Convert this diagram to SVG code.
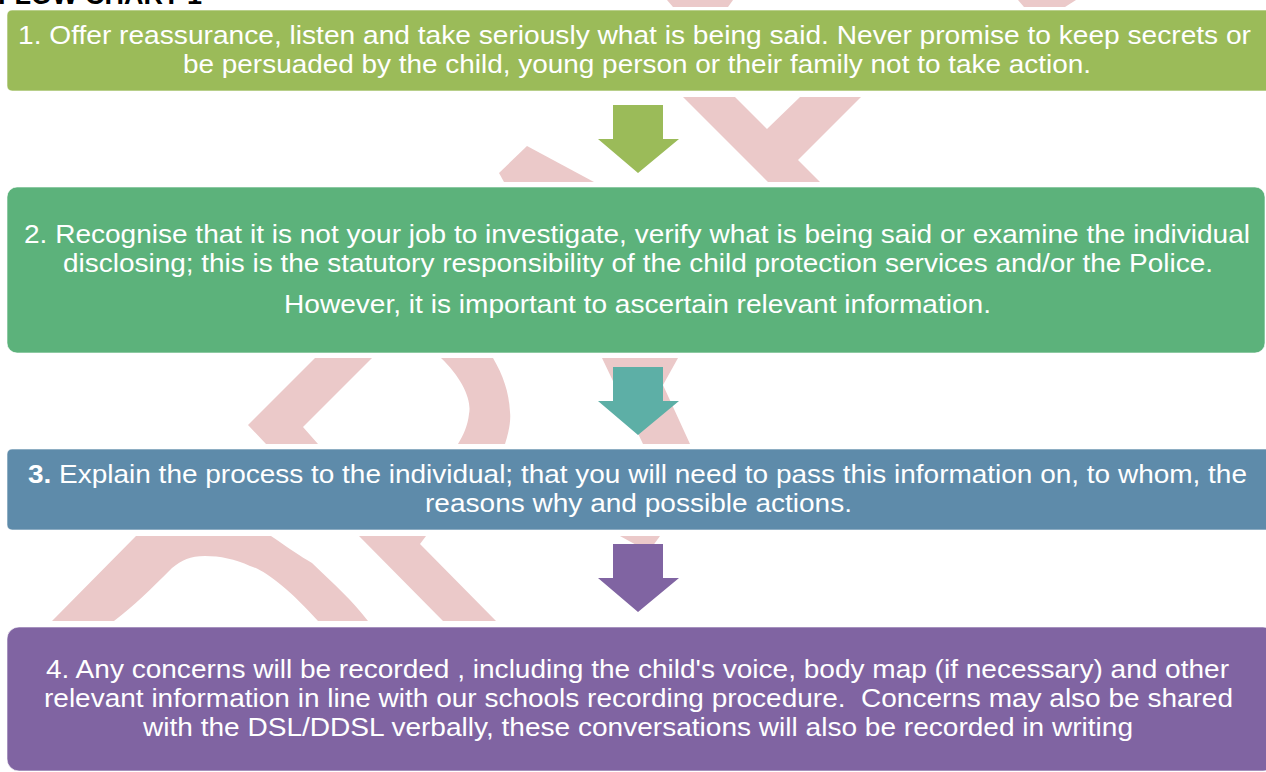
<svg xmlns="http://www.w3.org/2000/svg" width="1266" height="772" viewBox="0 0 1266 772">
<style>
.box{stroke:#ffffff;stroke-opacity:0.6;stroke-width:1}
.t{font-family:"Liberation Sans",Arial,sans-serif;font-size:25px;fill:#ffffff;text-anchor:middle}
.wm{fill:#EBC9C9}
.title{font-family:"Liberation Sans",Arial,sans-serif;font-size:27px;font-weight:bold;fill:#000000}
</style>
<rect x="0" y="0" width="1266" height="772" fill="#ffffff"/>
<text class="title" x="-2" y="4">FLOW CHART 1</text>
<g id="watermark">
<polygon class="wm" points="667,0 733,0 728,7 673,7"/>
<polygon class="wm" points="1018,0 1076,0 1065,7 1024,7"/>
<polygon class="wm" points="499,173 527,146 594,182 504,182"/>
<polygon class="wm" points="683,97 735,97 767,129 800,97 861,97 798,160 820,182 768,182"/>
<polygon class="wm" points="315,358 372,358 303,427 318,444 266,444 248,425"/>
<path class="wm" d="M441,358 C462,378 472,400 469,414 C468,425 463,436 458,444 L505,444 C509,432 511,420 510,412 C509,392 503,375 493,358 Z"/>
<polygon class="wm" points="602,358 678,358 663,385 690,444 643,444"/>
<path class="wm" d="M52,621 L136,536 L271,536 C290,549 300,556 312,563 C335,585 352,600 368,621 L318,621 C290,590 265,570 250,566 C235,559 220,556 205,556 C190,556 182,560 172,568 C150,590 135,605 114,621 Z"/>
<polygon class="wm" points="359,536 426,536 420,544 496,621 443,621"/>
<polygon class="wm" points="620,536 660,536 652,547 640,547"/>
</g>
<g id="connectors">
<polygon id="arrow1" fill="#9BBB59" points="613,105 663,105 663,139 679,139 638,173 598,139 613,139"/>
<polygon id="arrow2" fill="#5DAFA6" points="613,367 663,367 663,401 679,401 638,435 598,401 613,401"/>
<polygon id="arrow3" fill="#8064A2" points="613,544 663,544 663,578 679,578 638,612 598,578 613,578"/>
</g>
<g id="node1">
<rect class="box" x="7" y="10" width="1268" height="81" rx="5" fill="#9BBB59"/>
<text class="t" x="634.5" y="44" textLength="1233" lengthAdjust="spacingAndGlyphs">1. Offer reassurance, listen and take seriously what is being said. Never promise to keep secrets or</text>
<text class="t" x="637" y="73" textLength="908" lengthAdjust="spacingAndGlyphs">be persuaded by the child, young person or their family not to take action.</text>
</g>
<g id="node2">
<rect class="box" x="7" y="187" width="1258" height="166" rx="10" fill="#5CB27B"/>
<text class="t" x="637" y="243" textLength="1226" lengthAdjust="spacingAndGlyphs">2. Recognise that it is not your job to investigate, verify what is being said or examine the individual</text>
<text class="t" x="638" y="272" textLength="1150" lengthAdjust="spacingAndGlyphs">disclosing; this is the statutory responsibility of the child protection services and/or the Police.</text>
<text class="t" x="637.5" y="313" textLength="707" lengthAdjust="spacingAndGlyphs">However, it is important to ascertain relevant information.</text>
</g>
<g id="node3">
<rect class="box" x="7" y="449" width="1268" height="81" rx="5" fill="#5E8BAA"/>
<text class="t" x="637.5" y="483" textLength="1219" lengthAdjust="spacingAndGlyphs"><tspan font-weight="bold">3.</tspan> Explain the process to the individual; that you will need to pass this information on, to whom, the</text>
<text class="t" x="638.5" y="512" textLength="427" lengthAdjust="spacingAndGlyphs">reasons why and possible actions.</text>
</g>
<g id="node4">
<rect class="box" x="7" y="627" width="1268" height="144" rx="12" fill="#8064A2"/>
<text class="t" x="637.5" y="678" textLength="1183" lengthAdjust="spacingAndGlyphs">4. Any concerns will be recorded , including the child's voice, body map (if necessary) and other</text>
<text class="t" x="638.5" y="707" textLength="1189" lengthAdjust="spacingAndGlyphs" xml:space="preserve">relevant information in line with our schools recording procedure.  Concerns may also be shared</text>
<text class="t" x="638" y="736" textLength="990" lengthAdjust="spacingAndGlyphs">with the DSL/DDSL verbally, these conversations will also be recorded in writing</text>
</g>
</svg>
